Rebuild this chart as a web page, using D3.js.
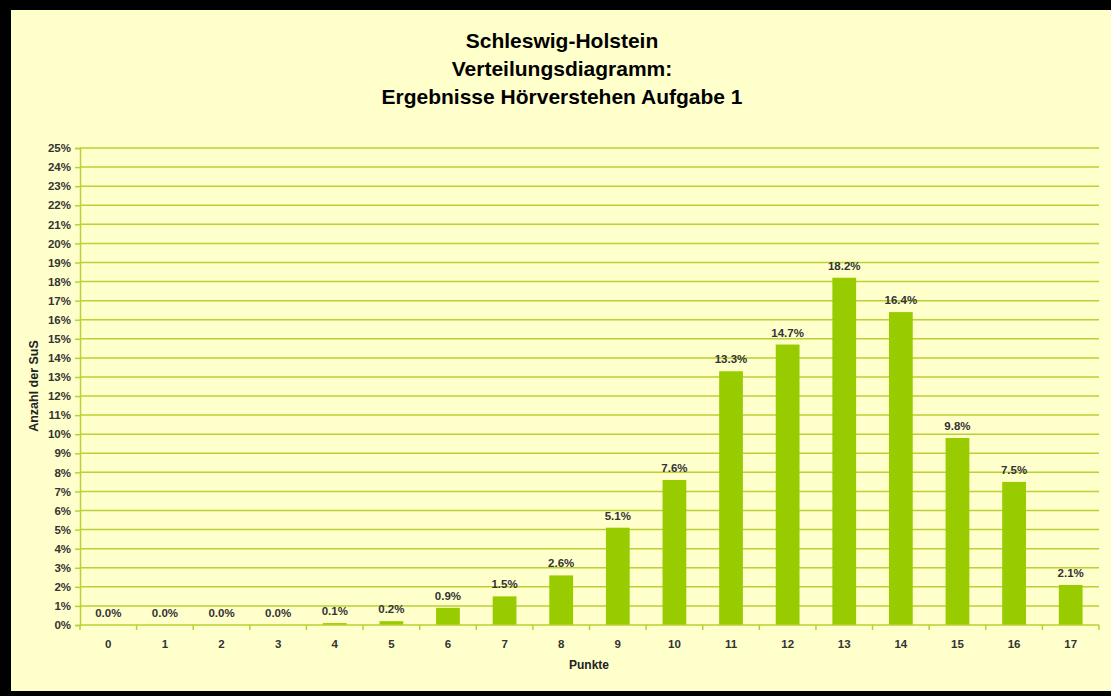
<!DOCTYPE html>
<html>
<head>
<meta charset="utf-8">
<script src="https://cdn.jsdelivr.net/npm/d3@7"></script>
<style>
  body { margin: 0; background: #000; }
  svg { display: block; font-family: Arial, "Liberation Sans", sans-serif; }
</style>
</head>
<body>
<div id="container"></div>
<script>
var W = 1111, H = 696;

var titleLines = ["Schleswig-Holstein", "Verteilungsdiagramm:", "Ergebnisse Hörverstehen Aufgabe 1"];
var punkte = ["0","1","2","3","4","5","6","7","8","9","10","11","12","13","14","15","16","17"];
var anteil = [0.0, 0.0, 0.0, 0.0, 0.1, 0.2, 0.9, 1.5, 2.6, 5.1, 7.6, 13.3, 14.7, 18.2, 16.4, 9.8, 7.5, 2.1];
var yTicks = d3.range(0, 26);

var margin = {left: 80, right: 1099, top: 148, bottom: 625};
var GRID = "#b8d232";
var BAR = "#99cc00";
var TXT = "#333333";

var svg = d3.select("#container").append("svg")
  .attr("width", W).attr("height", H);

// frame
svg.append("rect").attr("width", W).attr("height", H).attr("fill", "#000");
svg.append("rect").attr("x", 11).attr("y", 10).attr("width", W - 11).attr("height", 681)
  .attr("fill", "#ffffcc");

var x = d3.scaleBand().domain(punkte)
  .range([margin.left, margin.right])
  .paddingInner(0.58).paddingOuter(0.29);
var y = d3.scaleLinear().domain([0, 25]).range([margin.bottom, margin.top]);

// title
svg.append("g").selectAll("text").data(titleLines).enter().append("text")
  .attr("x", 562).attr("y", function(d, i){ return 48 + i * 28; })
  .attr("text-anchor", "middle")
  .style("font-size", "21px").style("font-weight", "bold").attr("fill", "#000")
  .text(function(d){ return d; });

// grid
svg.append("g").selectAll("line").data(yTicks.slice(1)).enter().append("line")
  .attr("x1", margin.left).attr("x2", margin.right)
  .attr("y1", function(d){ return y(d); }).attr("y2", function(d){ return y(d); })
  .attr("stroke", GRID).attr("stroke-width", 1.5);

// y axis
var yAxis = svg.append("g").attr("transform", "translate(" + margin.left + ",0)")
  .call(d3.axisLeft(y).tickValues(yTicks).tickSize(5).tickPadding(4)
    .tickFormat(function(d){ return d + "%"; }));
yAxis.select(".domain").attr("stroke", GRID).attr("stroke-width", 1.5);
yAxis.selectAll(".tick line").attr("stroke", GRID).attr("stroke-width", 1.5);
yAxis.selectAll("text").attr("fill", TXT)
  .style("font-size", "11.5px").style("font-weight", "bold").attr("font-family", "Arial, 'Liberation Sans', sans-serif");

// bars
svg.append("g").selectAll("rect").data(anteil).enter().append("rect")
  .attr("x", function(d, i){ return x(punkte[i]); })
  .attr("width", x.bandwidth())
  .attr("y", function(d){ return y(d); })
  .attr("height", function(d){ return y(0) - y(d); })
  .attr("fill", BAR);

// value labels
svg.append("g").selectAll("text").data(anteil).enter().append("text")
  .attr("x", function(d, i){ return x(punkte[i]) + x.bandwidth() / 2; })
  .attr("y", function(d){ return y(d) - 8; })
  .attr("text-anchor", "middle")
  .style("font-size", "11.5px").style("font-weight", "bold").attr("fill", TXT)
  .text(function(d){ return d.toFixed(1) + "%"; });

// x axis
var step = x.step();
var xAxis = svg.append("g").attr("transform", "translate(0," + margin.bottom + ")")
  .call(d3.axisBottom(x).tickSize(0).tickPadding(15));
xAxis.select(".domain").remove();
xAxis.append("line").attr("x1", margin.left).attr("x2", margin.right)
  .attr("stroke", GRID).attr("stroke-width", 1.5);
xAxis.selectAll(".sep").data(d3.range(0, punkte.length + 1)).enter().append("line")
  .attr("class", "sep")
  .attr("x1", function(d){ return margin.left + d * step; })
  .attr("x2", function(d){ return margin.left + d * step; })
  .attr("y1", 0).attr("y2", 5)
  .attr("stroke", GRID).attr("stroke-width", 1.5);
xAxis.selectAll(".tick text").attr("fill", TXT)
  .style("font-size", "11.5px").style("font-weight", "bold").attr("font-family", "Arial, 'Liberation Sans', sans-serif");

// axis titles
svg.append("text").attr("x", 589).attr("y", 669).attr("text-anchor", "middle")
  .style("font-size", "12px").style("font-weight", "bold").attr("fill", "#222")
  .text("Punkte");
svg.append("text").attr("transform", "translate(38,386) rotate(-90)")
  .attr("text-anchor", "middle")
  .style("font-size", "12.5px").style("font-weight", "bold").attr("fill", "#222")
  .text("Anzahl der SuS");
</script>
</body>
</html>
